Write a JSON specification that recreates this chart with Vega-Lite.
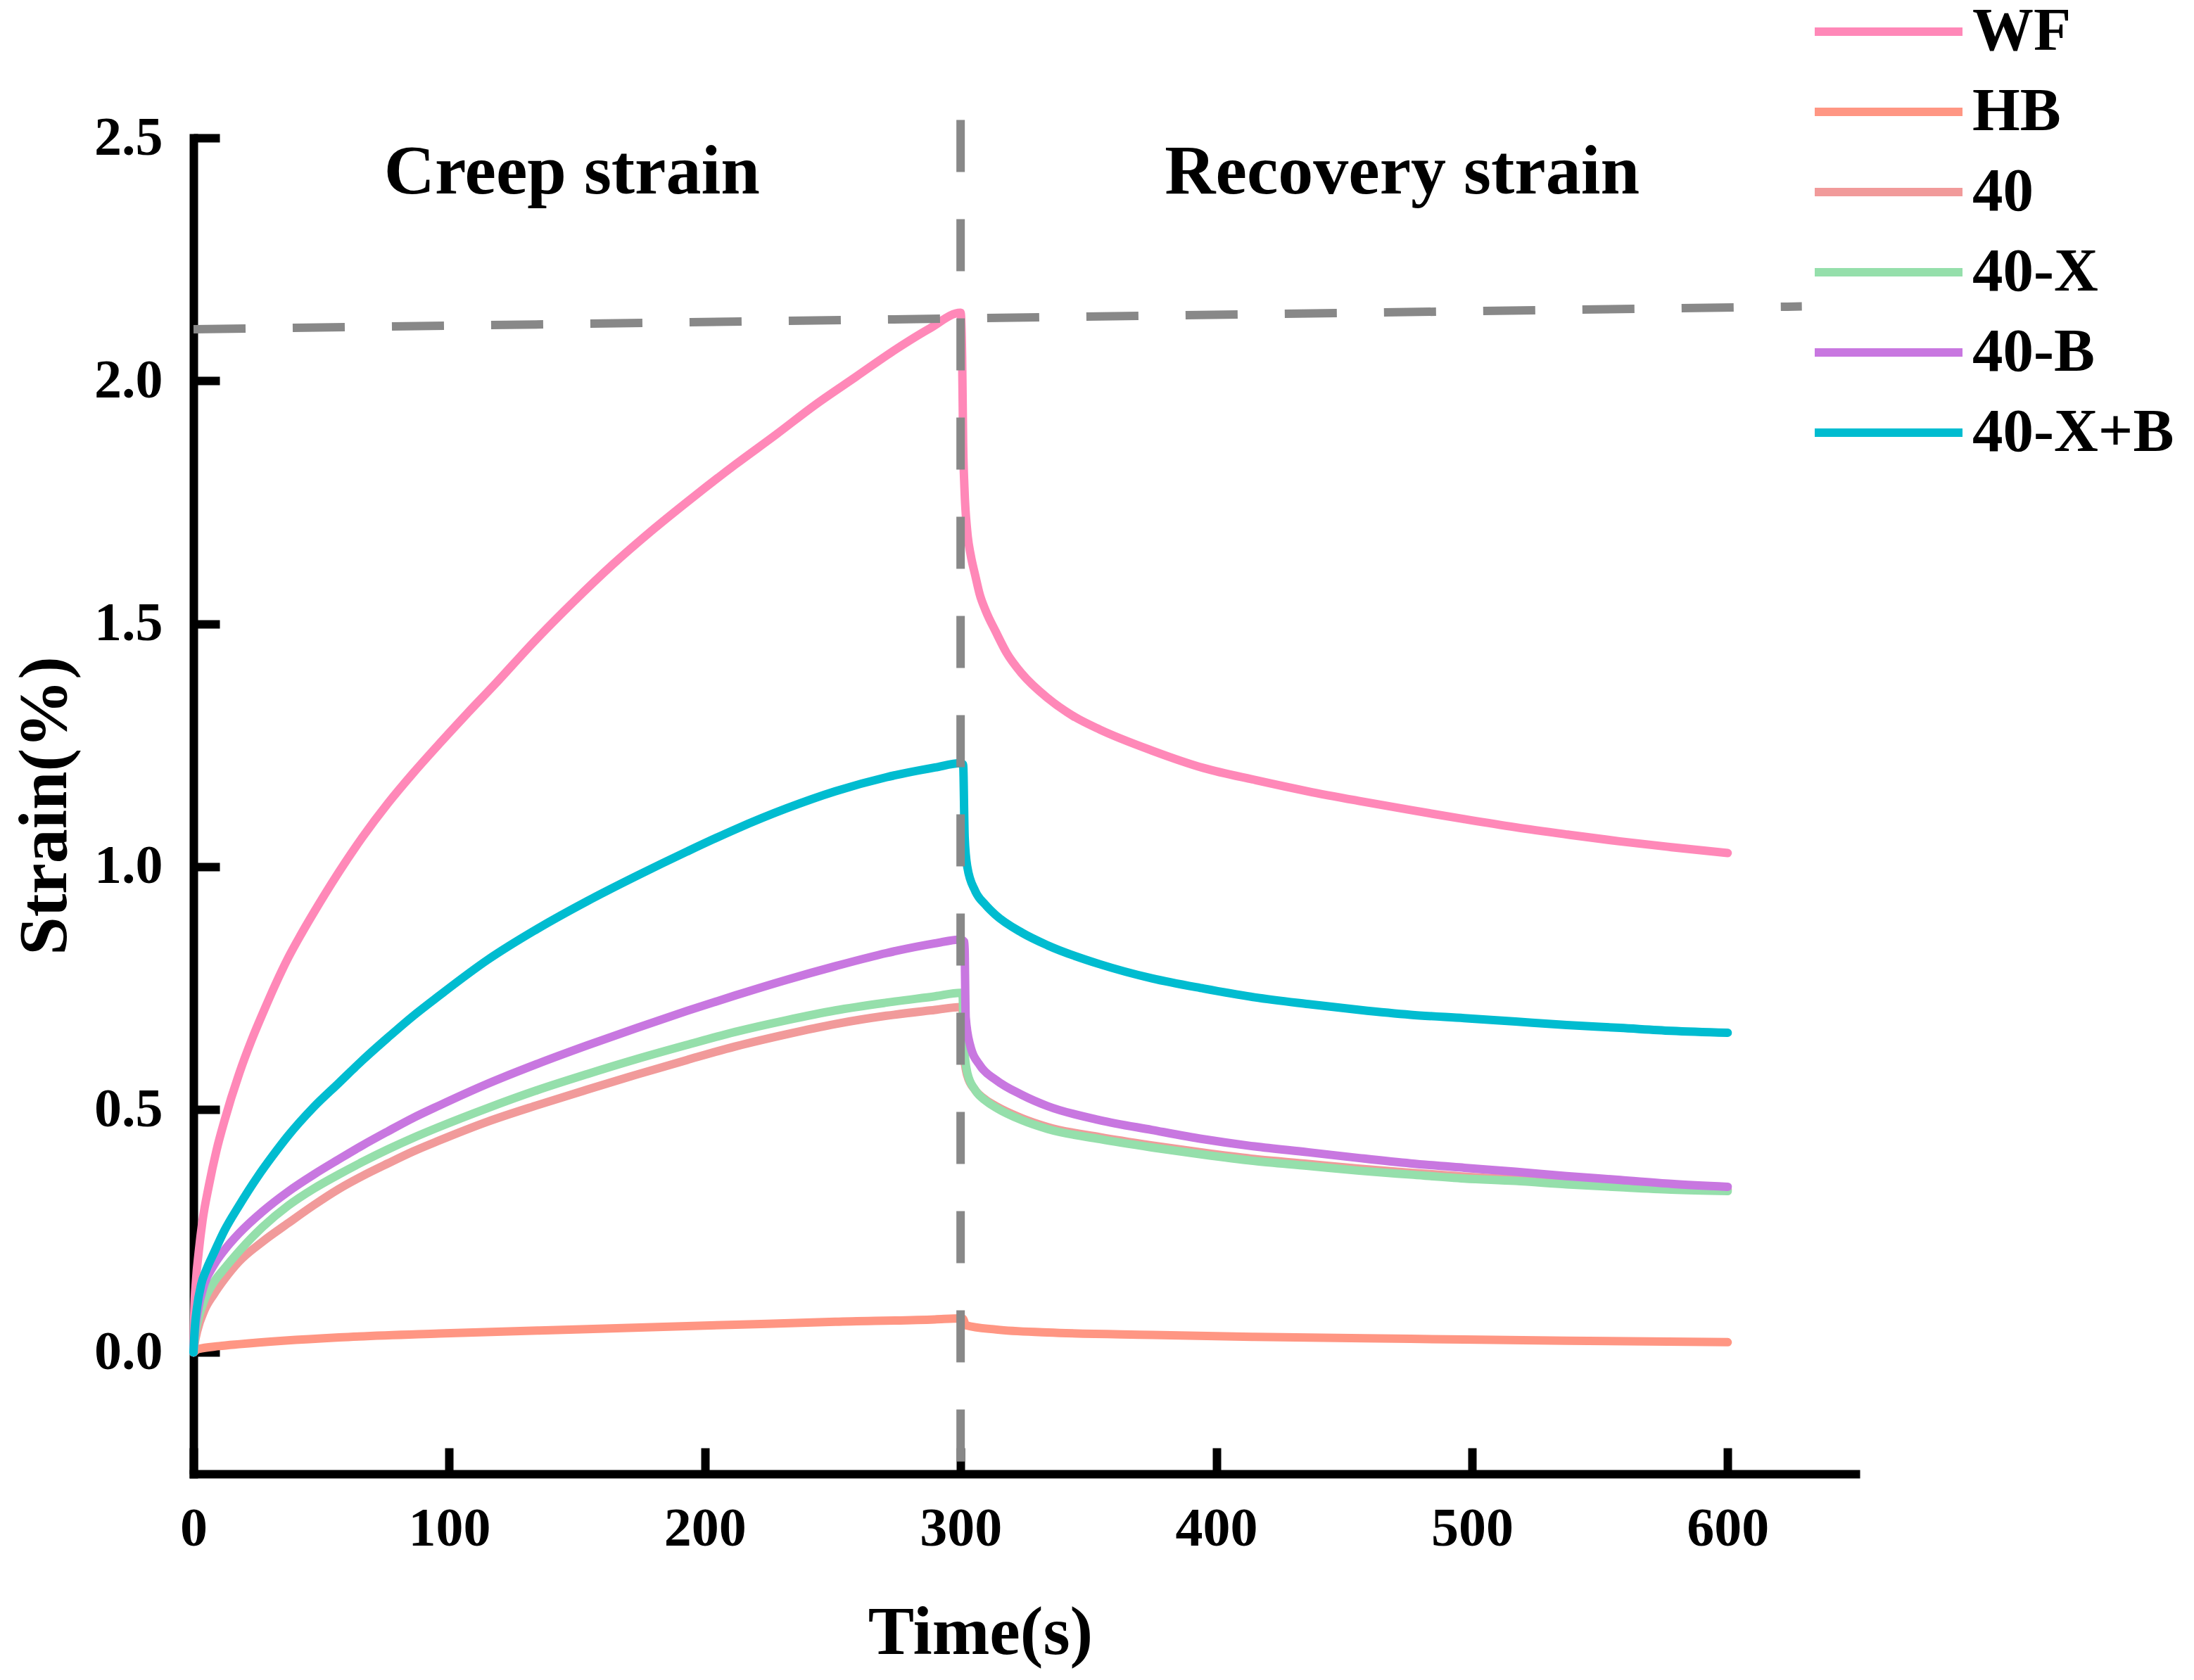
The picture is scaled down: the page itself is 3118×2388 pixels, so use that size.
{
"$schema": "https://vega.github.io/schema/vega-lite/v6.json",
"width": 2362, "height": 1899,
"autosize": {"type": "none"},
"padding": {"left": 275, "top": 196, "right": 481, "bottom": 293},
"background": "white",
"config": {"view": {"stroke": null}, "font": "Liberation Serif"},
"datasets": {
"curves": [
{"sample":"WF","time":0,"strain":0},{"sample":"WF","time":0.3,"strain":0.08},{"sample":"WF","time":1,"strain":0.15},{"sample":"WF","time":2,"strain":0.205},{"sample":"WF","time":3.5,"strain":0.27},{"sample":"WF","time":6,"strain":0.343},{"sample":"WF","time":9,"strain":0.416},{"sample":"WF","time":12,"strain":0.475},{"sample":"WF","time":18,"strain":0.576},{"sample":"WF","time":22.5,"strain":0.64},{"sample":"WF","time":27.5,"strain":0.703},{"sample":"WF","time":32,"strain":0.757},{"sample":"WF","time":37,"strain":0.812},{"sample":"WF","time":42,"strain":0.86},{"sample":"WF","time":47,"strain":0.905},{"sample":"WF","time":57,"strain":0.99},{"sample":"WF","time":66,"strain":1.06},{"sample":"WF","time":76,"strain":1.13},{"sample":"WF","time":86,"strain":1.193},{"sample":"WF","time":96,"strain":1.252},{"sample":"WF","time":107,"strain":1.315},{"sample":"WF","time":118,"strain":1.376},{"sample":"WF","time":133,"strain":1.462},{"sample":"WF","time":148.6,"strain":1.545},{"sample":"WF","time":164,"strain":1.622},{"sample":"WF","time":180,"strain":1.695},{"sample":"WF","time":196,"strain":1.763},{"sample":"WF","time":212,"strain":1.828},{"sample":"WF","time":228,"strain":1.89},{"sample":"WF","time":243,"strain":1.95},{"sample":"WF","time":259,"strain":2.008},{"sample":"WF","time":275,"strain":2.066},{"sample":"WF","time":288,"strain":2.108},{"sample":"WF","time":300,"strain":2.14},{"sample":"WF","time":300.6,"strain":2.05},{"sample":"WF","time":301,"strain":1.87},{"sample":"WF","time":301.5,"strain":1.78},{"sample":"WF","time":302.6,"strain":1.69},{"sample":"WF","time":304,"strain":1.64},{"sample":"WF","time":305.7,"strain":1.6},{"sample":"WF","time":307.5,"strain":1.56},{"sample":"WF","time":309.8,"strain":1.527},{"sample":"WF","time":313.8,"strain":1.483},{"sample":"WF","time":318,"strain":1.44},{"sample":"WF","time":324,"strain":1.397},{"sample":"WF","time":334,"strain":1.347},{"sample":"WF","time":344,"strain":1.31},{"sample":"WF","time":354.5,"strain":1.282},{"sample":"WF","time":374.8,"strain":1.239},{"sample":"WF","time":395,"strain":1.203},{"sample":"WF","time":415.4,"strain":1.178},{"sample":"WF","time":435.8,"strain":1.155},{"sample":"WF","time":456,"strain":1.135},{"sample":"WF","time":476.4,"strain":1.116},{"sample":"WF","time":496.7,"strain":1.098},{"sample":"WF","time":517,"strain":1.081},{"sample":"WF","time":537.4,"strain":1.066},{"sample":"WF","time":557.7,"strain":1.052},{"sample":"WF","time":578,"strain":1.04},{"sample":"WF","time":600,"strain":1.028},
{"sample":"HB","time":0,"strain":0},{"sample":"HB","time":2,"strain":0.007},{"sample":"HB","time":10,"strain":0.013},{"sample":"HB","time":18,"strain":0.017},{"sample":"HB","time":35,"strain":0.024},{"sample":"HB","time":57,"strain":0.031},{"sample":"HB","time":96,"strain":0.039},{"sample":"HB","time":154,"strain":0.048},{"sample":"HB","time":212,"strain":0.057},{"sample":"HB","time":251,"strain":0.063},{"sample":"HB","time":290,"strain":0.068},{"sample":"HB","time":300,"strain":0.07},{"sample":"HB","time":301,"strain":0.069},{"sample":"HB","time":302,"strain":0.056},{"sample":"HB","time":314,"strain":0.047},{"sample":"HB","time":334,"strain":0.041},{"sample":"HB","time":375,"strain":0.036},{"sample":"HB","time":415,"strain":0.032},{"sample":"HB","time":476,"strain":0.028},{"sample":"HB","time":537,"strain":0.024},{"sample":"HB","time":600,"strain":0.021},
{"sample":"40","time":0,"strain":0},{"sample":"40","time":0.5,"strain":0.02},{"sample":"40","time":1.5,"strain":0.045},{"sample":"40","time":4.2,"strain":0.086},{"sample":"40","time":8,"strain":0.12},{"sample":"40","time":12,"strain":0.15},{"sample":"40","time":17.8,"strain":0.187},{"sample":"40","time":27,"strain":0.228},{"sample":"40","time":37,"strain":0.266},{"sample":"40","time":47,"strain":0.303},{"sample":"40","time":56.7,"strain":0.336},{"sample":"40","time":66,"strain":0.363},{"sample":"40","time":76,"strain":0.389},{"sample":"40","time":86,"strain":0.414},{"sample":"40","time":96,"strain":0.436},{"sample":"40","time":115,"strain":0.475},{"sample":"40","time":134.5,"strain":0.509},{"sample":"40","time":154,"strain":0.541},{"sample":"40","time":173.4,"strain":0.572},{"sample":"40","time":193,"strain":0.602},{"sample":"40","time":212,"strain":0.63},{"sample":"40","time":232,"strain":0.655},{"sample":"40","time":251,"strain":0.676},{"sample":"40","time":271,"strain":0.693},{"sample":"40","time":290,"strain":0.705},{"sample":"40","time":300,"strain":0.711},{"sample":"40","time":300.8,"strain":0.705},{"sample":"40","time":301.2,"strain":0.62},{"sample":"40","time":302.6,"strain":0.57},{"sample":"40","time":305.7,"strain":0.54},{"sample":"40","time":309.8,"strain":0.52},{"sample":"40","time":313.8,"strain":0.507},{"sample":"40","time":324,"strain":0.482},{"sample":"40","time":334,"strain":0.464},{"sample":"40","time":354.5,"strain":0.443},{"sample":"40","time":374.8,"strain":0.426},{"sample":"40","time":395,"strain":0.411},{"sample":"40","time":415,"strain":0.398},{"sample":"40","time":436,"strain":0.388},{"sample":"40","time":456,"strain":0.378},{"sample":"40","time":476,"strain":0.37},{"sample":"40","time":497,"strain":0.362},{"sample":"40","time":517,"strain":0.356},{"sample":"40","time":537,"strain":0.349},{"sample":"40","time":558,"strain":0.343},{"sample":"40","time":578,"strain":0.338},{"sample":"40","time":600,"strain":0.335},
{"sample":"40-X","time":0,"strain":0},{"sample":"40-X","time":0.5,"strain":0.03},{"sample":"40-X","time":1.5,"strain":0.06},{"sample":"40-X","time":4.2,"strain":0.107},{"sample":"40-X","time":8,"strain":0.145},{"sample":"40-X","time":12,"strain":0.172},{"sample":"40-X","time":17.8,"strain":0.208},{"sample":"40-X","time":27,"strain":0.258},{"sample":"40-X","time":37,"strain":0.302},{"sample":"40-X","time":47,"strain":0.337},{"sample":"40-X","time":56.7,"strain":0.366},{"sample":"40-X","time":66,"strain":0.392},{"sample":"40-X","time":76,"strain":0.418},{"sample":"40-X","time":86,"strain":0.442},{"sample":"40-X","time":96,"strain":0.464},{"sample":"40-X","time":115,"strain":0.503},{"sample":"40-X","time":134.5,"strain":0.54},{"sample":"40-X","time":154,"strain":0.573},{"sample":"40-X","time":173.4,"strain":0.604},{"sample":"40-X","time":193,"strain":0.633},{"sample":"40-X","time":212,"strain":0.66},{"sample":"40-X","time":232,"strain":0.684},{"sample":"40-X","time":251,"strain":0.704},{"sample":"40-X","time":271,"strain":0.72},{"sample":"40-X","time":290,"strain":0.733},{"sample":"40-X","time":300,"strain":0.74},{"sample":"40-X","time":300.8,"strain":0.735},{"sample":"40-X","time":301.2,"strain":0.64},{"sample":"40-X","time":302.6,"strain":0.576},{"sample":"40-X","time":305.7,"strain":0.54},{"sample":"40-X","time":309.8,"strain":0.518},{"sample":"40-X","time":313.8,"strain":0.504},{"sample":"40-X","time":324,"strain":0.478},{"sample":"40-X","time":334,"strain":0.46},{"sample":"40-X","time":354.5,"strain":0.439},{"sample":"40-X","time":374.8,"strain":0.422},{"sample":"40-X","time":395,"strain":0.407},{"sample":"40-X","time":415,"strain":0.394},{"sample":"40-X","time":436,"strain":0.384},{"sample":"40-X","time":456,"strain":0.374},{"sample":"40-X","time":476,"strain":0.366},{"sample":"40-X","time":497,"strain":0.358},{"sample":"40-X","time":517,"strain":0.353},{"sample":"40-X","time":537,"strain":0.346},{"sample":"40-X","time":558,"strain":0.34},{"sample":"40-X","time":578,"strain":0.335},{"sample":"40-X","time":600,"strain":0.332},
{"sample":"40-B","time":0,"strain":0},{"sample":"40-B","time":0.5,"strain":0.04},{"sample":"40-B","time":1.5,"strain":0.08},{"sample":"40-B","time":4.2,"strain":0.14},{"sample":"40-B","time":8,"strain":0.18},{"sample":"40-B","time":12,"strain":0.21},{"sample":"40-B","time":17.8,"strain":0.245},{"sample":"40-B","time":27,"strain":0.29},{"sample":"40-B","time":37,"strain":0.331},{"sample":"40-B","time":47,"strain":0.366},{"sample":"40-B","time":56.7,"strain":0.397},{"sample":"40-B","time":66,"strain":0.426},{"sample":"40-B","time":76,"strain":0.455},{"sample":"40-B","time":86,"strain":0.483},{"sample":"40-B","time":96,"strain":0.508},{"sample":"40-B","time":115,"strain":0.553},{"sample":"40-B","time":134.5,"strain":0.594},{"sample":"40-B","time":154,"strain":0.632},{"sample":"40-B","time":173.4,"strain":0.668},{"sample":"40-B","time":193,"strain":0.703},{"sample":"40-B","time":212,"strain":0.735},{"sample":"40-B","time":232,"strain":0.767},{"sample":"40-B","time":251,"strain":0.795},{"sample":"40-B","time":271,"strain":0.822},{"sample":"40-B","time":290,"strain":0.842},{"sample":"40-B","time":300,"strain":0.85},{"sample":"40-B","time":301.5,"strain":0.845},{"sample":"40-B","time":302,"strain":0.69},{"sample":"40-B","time":303.7,"strain":0.633},{"sample":"40-B","time":307.7,"strain":0.59},{"sample":"40-B","time":313.8,"strain":0.561},{"sample":"40-B","time":324,"strain":0.53},{"sample":"40-B","time":334,"strain":0.507},{"sample":"40-B","time":354.5,"strain":0.478},{"sample":"40-B","time":374.8,"strain":0.458},{"sample":"40-B","time":395,"strain":0.439},{"sample":"40-B","time":415,"strain":0.424},{"sample":"40-B","time":436,"strain":0.412},{"sample":"40-B","time":456,"strain":0.4},{"sample":"40-B","time":476,"strain":0.389},{"sample":"40-B","time":497,"strain":0.38},{"sample":"40-B","time":517,"strain":0.372},{"sample":"40-B","time":537,"strain":0.363},{"sample":"40-B","time":558,"strain":0.355},{"sample":"40-B","time":578,"strain":0.347},{"sample":"40-B","time":600,"strain":0.341},
{"sample":"40-X+B","time":0,"strain":0},{"sample":"40-X+B","time":0.5,"strain":0.05},{"sample":"40-X+B","time":1.3,"strain":0.09},{"sample":"40-X+B","time":3,"strain":0.14},{"sample":"40-X+B","time":5,"strain":0.17},{"sample":"40-X+B","time":8,"strain":0.205},{"sample":"40-X+B","time":12,"strain":0.25},{"sample":"40-X+B","time":17.8,"strain":0.302},{"sample":"40-X+B","time":25,"strain":0.361},{"sample":"40-X+B","time":31,"strain":0.405},{"sample":"40-X+B","time":37,"strain":0.446},{"sample":"40-X+B","time":47,"strain":0.505},{"sample":"40-X+B","time":56.7,"strain":0.554},{"sample":"40-X+B","time":66,"strain":0.601},{"sample":"40-X+B","time":76,"strain":0.648},{"sample":"40-X+B","time":86,"strain":0.693},{"sample":"40-X+B","time":96,"strain":0.734},{"sample":"40-X+B","time":115,"strain":0.808},{"sample":"40-X+B","time":134.5,"strain":0.872},{"sample":"40-X+B","time":154,"strain":0.929},{"sample":"40-X+B","time":173.4,"strain":0.981},{"sample":"40-X+B","time":193,"strain":1.031},{"sample":"40-X+B","time":212,"strain":1.077},{"sample":"40-X+B","time":232,"strain":1.12},{"sample":"40-X+B","time":251,"strain":1.155},{"sample":"40-X+B","time":271,"strain":1.184},{"sample":"40-X+B","time":290,"strain":1.204},{"sample":"40-X+B","time":300,"strain":1.213},{"sample":"40-X+B","time":301,"strain":1.21},{"sample":"40-X+B","time":301.6,"strain":1.06},{"sample":"40-X+B","time":302.6,"strain":1.0},{"sample":"40-X+B","time":305.7,"strain":0.95},{"sample":"40-X+B","time":309.8,"strain":0.921},{"sample":"40-X+B","time":313.8,"strain":0.9},{"sample":"40-X+B","time":324,"strain":0.864},{"sample":"40-X+B","time":334,"strain":0.838},{"sample":"40-X+B","time":354.5,"strain":0.799},{"sample":"40-X+B","time":374.8,"strain":0.77},{"sample":"40-X+B","time":395,"strain":0.749},{"sample":"40-X+B","time":415,"strain":0.731},{"sample":"40-X+B","time":436,"strain":0.717},{"sample":"40-X+B","time":456,"strain":0.705},{"sample":"40-X+B","time":476,"strain":0.695},{"sample":"40-X+B","time":497,"strain":0.688},{"sample":"40-X+B","time":517,"strain":0.681},{"sample":"40-X+B","time":537,"strain":0.674},{"sample":"40-X+B","time":558,"strain":0.668},{"sample":"40-X+B","time":578,"strain":0.662},{"sample":"40-X+B","time":600,"strain":0.658}
],
"guides": [
{"x": 300, "y": 2.537, "x2": 300, "y2": -0.25},
{"x": 0, "y": 2.106, "x2": 629, "y2": 2.153}
],
"notes": [
{"time": 148, "strain": 2.385, "label": "Creep strain"},
{"time": 472.7, "strain": 2.385, "label": "Recovery strain"}
]
},
"layer": [
{
"data": {"name": "curves"},
"mark": {"type": "line", "strokeWidth": 12, "strokeCap": "round", "strokeJoin": "round", "interpolate": "monotone"},
"encoding": {
"x": {"field": "time", "type": "quantitative",
"scale": {"domain": [0, 650], "nice": false, "zero": false},
"axis": {"values": [0, 100, 200, 300, 400, 500, 600], "title": "Time(s)", "grid": false,
"domainColor": "black", "domainWidth": 12, "domainCap": "square",
"tickColor": "black", "tickWidth": 12, "tickSize": -37,
"labelFont": "Liberation Serif", "labelFontWeight": "bold", "labelFontSize": 78, "labelColor": "black", "labelPadding": 76, "labelFlush": false,
"titleFont": "Liberation Serif", "titleFontWeight": "bold", "titleFontSize": 98, "titleColor": "black",
"titleX": 1118, "titleY": 255, "titleBaseline": "alphabetic", "titleAlign": "center", "titleAnchor": null}},
"y": {"field": "strain", "type": "quantitative",
"scale": {"domain": [-0.25, 2.5], "nice": false, "zero": false},
"axis": {"values": [0, 0.5, 1, 1.5, 2, 2.5], "format": ".1f", "title": "Strain(%)", "grid": false,
"domainColor": "black", "domainWidth": 12, "domainCap": "square",
"tickColor": "black", "tickWidth": 12, "tickSize": -37,
"labelFont": "Liberation Serif", "labelFontWeight": "bold", "labelFontSize": 78, "labelColor": "black", "labelPadding": 81, "labelFlush": false,
"titleFont": "Liberation Serif", "titleFontWeight": "bold", "titleFontSize": 98, "titleColor": "black",
"titleX": -182, "titleY": 949, "titleAngle": -90, "titleBaseline": "alphabetic", "titleAlign": "center", "titleAnchor": null}},
"color": {"field": "sample", "type": "nominal",
"scale": {"domain": ["WF", "HB", "40", "40-X", "40-B", "40-X+B"],
"range": ["#ff88b8", "#ff9683", "#f19a9a", "#95dfab", "#c877e0", "#00bcd0"]},
"legend": {"orient": "none", "legendX": 2298, "legendY": -208, "title": null,
"symbolType": "stroke", "symbolSize": 44100, "symbolStrokeWidth": 12,
"labelFont": "Liberation Serif", "labelFontWeight": "bold", "labelFontSize": 87, "labelColor": "black", "labelLimit": 0,
"labelOffset": 8, "clipHeight": 114, "rowPadding": 0, "padding": 0, "symbolOffset": 0}}
}
},
{
"data": {"name": "guides"},
"mark": {"type": "rule", "strokeDash": [74, 67], "strokeWidth": 12, "color": "#888888"},
"encoding": {
"x": {"field": "x", "type": "quantitative"},
"y": {"field": "y", "type": "quantitative"},
"x2": {"field": "x2"},
"y2": {"field": "y2"}
}
},
{
"data": {"name": "notes"},
"mark": {"type": "text", "font": "Liberation Serif", "fontWeight": "bold", "fontSize": 100, "baseline": "alphabetic", "align": "center", "color": "black"},
"encoding": {
"x": {"field": "time", "type": "quantitative"},
"y": {"field": "strain", "type": "quantitative"},
"text": {"field": "label"}
}
}
]
}
